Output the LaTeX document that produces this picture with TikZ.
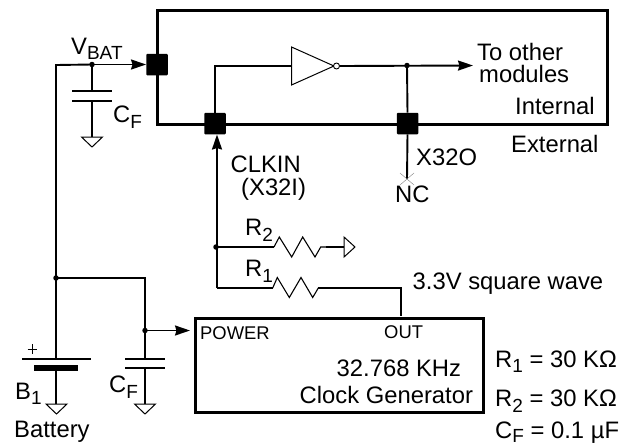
\documentclass[tikz,border=0pt]{standalone}
\usepackage{fontspec}
\setmainfont{Liberation Sans}
\usetikzlibrary{arrows.meta}
\tikzset{
 wire/.style={line width=1.9pt},
 wireh/.style={wire,-{Stealth[length=15pt,width=10pt,inset=1.5pt]}},
 bus/.style={line width=3pt},
 pin/.style={fill=black,draw=none,minimum size=21.5pt,inner sep=0pt,rounded corners=1pt},
 dotj/.style={circle,fill=black,draw=none,minimum size=5.5pt,inner sep=0pt},
 gnd/.style={line width=1pt,fill=white,line join=miter},
 lbl/.style={inner sep=0pt,font=\fontsize{23.8}{25}\selectfont,anchor=base west},
 sm/.style={inner sep=0pt,font=\fontsize{18.4}{20}\selectfont,anchor=base west},
 plate/.style={line width=1.9pt},
 zig/.style={line width=1.1pt,line join=miter},
}
\newcommand{\sbs}[1]{\raisebox{-5.5pt}{\fontsize{19}{20}\selectfont #1}}
\newcommand{\sbt}[1]{\raisebox{-4.5pt}{\fontsize{19}{20}\selectfont #1}}
\begin{document}
\begin{tikzpicture}[x=1pt,y=-1pt]
\useasboundingbox (0,0) rectangle (629,445);
% outer box
\draw[bus] (157,10) rectangle (607.5,124.3);
\node[pin] (pA) at (157,64.5) {};
\node[pin] (pB) at (215,123.5) {};
\node[pin] (pC) at (407.5,123.5) {};
% clock generator
\node[draw,line width=3pt,minimum width=288pt,minimum height=94pt,inner sep=0pt,anchor=north west] (gen) at (193.5,317) {};
% junctions
\coordinate (corner) at (56,65);
\node[dotj] (jV) at (92,64.5) {};
\node[dotj] (jL) at (56,278) {};
\node[dotj] (jP) at (145,330.5) {};
\node[dotj] (jO) at (407,65.5) {};
\node[dotj] (jR2) at (216,247) {};
\coordinate (jR1) at (217,288);
% VBAT
\draw[wireh] (jV.center) -- (pA.west);
\draw[wire] (jV.center) -- (corner) -- (56,359);
\draw[wire] (jV.center) -- (92,91);
\draw[plate] (72,91) -- (112,91) (72,101) -- (112,101);
\draw[wire] (92,101) -- (92,137);
\draw[gnd] (81.5,137) -- (102.5,137) -- (92,147) -- cycle;
% battery
\draw[plate] (22,359) -- (91,359);
\fill (34,365) rectangle (78,371);
\draw[wire] (56,371) -- (56,404);
\draw[gnd] (46,404) -- (67,404) -- (56.5,414) -- cycle;
\draw[line width=0.6pt] (27.5,349) -- (37,349) (32,344) -- (32,354);
% second cap
\draw[wire] (jL.center) -- (145,278) -- (145,359);
\draw[wireh] (jP.center) -- (190,330.5);
\draw[plate] (125,359) -- (165,359) (125,368) -- (165,368);
\draw[wire] (145,368) -- (145,404);
\draw[gnd] (134.5,404) -- (155.5,404) -- (145,414) -- cycle;
% inverter loop
\draw[wire] (215,113) -- (215,66) -- (291.5,66);
\draw[line width=1pt,fill=white,line join=miter] (291.5,47) -- (291.5,85) -- (334,66) -- cycle;
\node[circle,draw,line width=0.9pt,fill=white,minimum size=6pt,inner sep=0pt] (bub) at (336.5,66) {};
\draw[wireh] (bub.east) -- (473,65.5);
\draw[wire] (jO.center) -- (pC.north);
\coordinate (nc) at (407,179);
\draw[wire] (pC.south) -- (nc);
\draw[line width=0.4pt,draw=gray] (400,173) -- (414,185) (414,173) -- (400,185);
% clock in
\draw[wireh] (jR1) -- (217,134.5);
% resistors
\draw[wire] (jR2.center) -- (274,247);
\draw[zig] (274,247) -- (279.3,237) -- (291.7,257) -- (302.7,237) -- (315,257) -- (320.7,247) -- (326,247);
\draw[wire] (326,247) -- (344,247);
\draw[gnd] (344,237) -- (344,257) -- (355,247) -- cycle;
\draw[wire] (jR1) -- (272.7,288);
\draw[zig] (272.7,288) -- (277.3,277.5) -- (289.3,297.5) -- (301,277.5) -- (312.7,297.5) -- (318.3,288);
\draw[wire] (318.3,288) -- (401,288) -- (401,316);
% labels
\node[lbl] (t1) at (71,54) {V\sbs{BAT}};
\node[lbl] (t2) at (113,122.5) {C\sbs{F}};
\node[lbl] (t3) at (230.5,172) {CLKIN};
\node[lbl] (t4) at (241,195) {(X32I)};
\node[lbl] (t5) at (477,60) {To other};
\node[lbl] (t6) at (479,82) {modules};
\node[lbl] (t7) at (515,114) {Internal};
\node[lbl] (t8) at (511,152) {External};
\node[lbl] (t9) at (416,165) {X32O};
\node[lbl] (t10) at (395,202) {NC};
\node[lbl] (t11) at (245,235.5) {R\sbs{2}};
\node[lbl] (t12) at (245,276.5) {R\sbs{1}};
\node[lbl] (t13) at (412.5,289) {3.3V square wave};
\node[sm] (t14) at (200,339) {POWER};
\node[sm] (t15) at (384,338) {OUT};
\node[lbl] (t16) at (336.5,376) {32.768 KHz};
\node[lbl] (t17) at (299.5,403) {Clock Generator};
\node[lbl] (t18) at (15,399) {B\sbs{1}};
\node[lbl] (t19) at (109,392.5) {C\sbs{F}};
\node[lbl] (t20) at (14,437.5) {Battery};
\node[lbl] (t21) at (495,367) {R\sbs{1} = 30 KΩ};
\node[lbl] (t22) at (495,406.5) {R\sbs{2} = 30 KΩ};
\node[lbl] (t23) at (495,438) {C\sbt{F} = 0.1 µF};
\end{tikzpicture}
\end{document}
